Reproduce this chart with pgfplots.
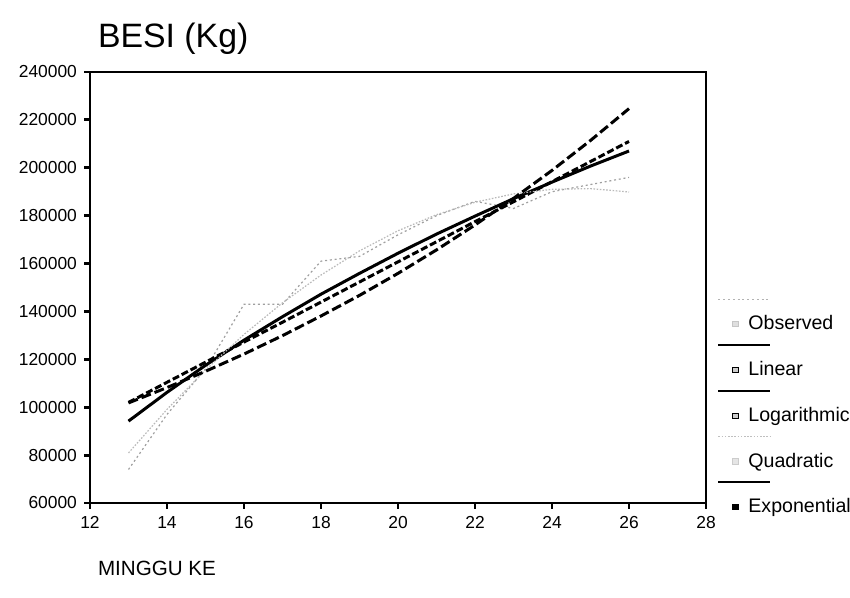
\documentclass[border=0pt]{standalone}
\usepackage{pgfplots}
\pgfplotsset{compat=1.18}
\usepackage{fontspec}
\setmainfont{Liberation Sans}

% legend sample: short line above, small square marker left of the text
% #1 = style of the sample line, #2 = style of the marker
\pgfplotsset{
  spsslegend/.style 2 args={
    legend image code/.code={
      \draw[solid,#1,overlay] (0pt,12.5pt) -- (26pt,12.5pt);
      \draw[#2,solid,line width=0.5pt] (7.2pt,-1.3pt) rectangle (9.8pt,1.3pt);
      \path[draw=none,fill=none] (0pt,0pt) rectangle (11pt,0.1pt);
    }
  }
}

\begin{document}
\begin{tikzpicture}
\useasboundingbox (-45pt,-47.5pt) rectangle (380pt,251.5pt);
\begin{axis}[
    at={(0,0)}, anchor=south west,
    scale only axis,
    width=308pt, height=215.5pt,
    xmin=12, xmax=28,
    ymin=60000, ymax=240000,
    xtick={12,14,...,28},
    ytick={60000,80000,...,240000},
    scaled y ticks=false,
    /pgf/number format/fixed,
    /pgf/number format/precision=0,
    /pgf/number format/1000 sep={},
    /pgf/number format/assume math mode=true,
    xtick pos=left, ytick pos=left,
    tick align=outside,
    major tick length=3pt,
    tick style={black, line width=1.4pt},
    axis line style={black, line width=1pt},
    ticklabel style={font=\fontsize{8.7}{10}\selectfont},
    title={BESI (Kg)},
    title style={at={(0,1)}, anchor=west, xshift=0.5pt, yshift=10.5pt,
                 font=\fontsize{16.9}{19}\selectfont},
    xlabel={MINGGU KE},
    xlabel style={at={(0,0)}, anchor=west, xshift=0.5pt, yshift=-32.5pt,
                  font=\fontsize{10.3}{12}\selectfont},
    legend cell align=left,
    legend style={at={(1,0.494)}, anchor=north west, xshift=3pt, yshift=-9.5pt,
                  draw=none, fill=none,
                  font=\fontsize{9.8}{11}\selectfont,
                  row sep=12.3pt,
                  nodes={inner sep=1pt, inner xsep=4pt}},
]

% Observed
\addplot[gray!75, line width=0.6pt, dash pattern=on 1pt off 1.4pt,
         spsslegend={gray!60,line width=0.5pt,dash pattern=on 1pt off 1.4pt}{gray!45,fill=gray!25}]
 coordinates {
 (13,74000) (14,97000) (15,116000) (16,143000) (17,143000) (18,161000)
 (19,163000) (20,172000) (21,180000) (22,186000) (23,183000) (24,190000)
 (25,193000) (26,196000)
};

% Linear
\addplot[black, line width=1.5pt, dash pattern=on 3.5pt off 1.5pt,
         spsslegend={black,line width=0.9pt}{black,fill=gray!40}]
 coordinates {
 (13,102000) (14,110400) (15,118800) (16,127200) (17,135500) (18,143900)
 (19,152300) (20,160700) (21,169100) (22,177500) (23,185800) (24,194200)
 (25,202600) (26,211000)
};

% Logarithmic
\addplot[black, line width=1.5pt,
         spsslegend={black,line width=0.9pt}{black,fill=gray!40}]
 coordinates {
 (13,94200) (14,106200) (15,117500) (16,128000) (17,137800) (18,147200)
 (19,155900) (20,164300) (21,172300) (22,179800) (23,187100) (24,194000)
 (25,200700) (26,207000)
};

% Quadratic
\addplot[gray!55, line width=0.6pt, dash pattern=on 0.8pt off 0.8pt,
         spsslegend={gray!50,line width=0.5pt,dash pattern=on 0.8pt off 0.8pt}{gray!40,fill=gray!20}]
 coordinates {
 (13,80900) (14,99100) (15,115500) (16,130400) (17,143600) (18,155200)
 (19,165300) (20,173700) (21,180400) (22,185600) (23,189100) (24,191000)
 (25,191300) (26,189900)
};

% Exponential
\addplot[black, line width=1.5pt, dash pattern=on 5pt off 2pt,
         spsslegend={black,line width=0.9pt}{black,fill=black}]
 coordinates {
 (13,101800) (14,108200) (15,115000) (16,122200) (17,129900) (18,138100)
 (19,146700) (20,155900) (21,165700) (22,176100) (23,187200) (24,198900)
 (25,211400) (26,224700)
};

\legend{Observed, Linear, Logarithmic, Quadratic, Exponential}
\end{axis}
\end{tikzpicture}
\end{document}
